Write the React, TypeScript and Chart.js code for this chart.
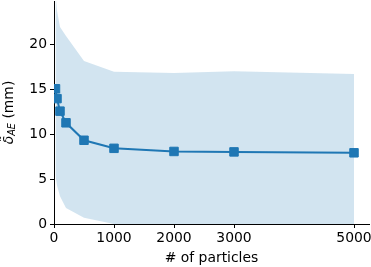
import React, { useEffect, useRef } from "react";
import { Chart, registerables } from "chart.js";

Chart.register(...registerables);

const particles = [25, 50, 100, 200, 500, 1000, 2000, 3000, 5000];
const meanDelta = [15.1, 14.0, 12.6, 11.3, 9.35, 8.45, 8.1, 8.05, 7.95];
const upperBand = [25.8, 23.8, 22.0, 21.0, 18.2, 17.0, 16.85, 17.05, 16.75];
const lowerBand = [5.4, 4.3, 3.1, 1.8, 0.7, 0.0, -0.3, -0.4, -0.5];
const xTicks = [0, 1000, 2000, 3000, 5000];
const yTicks = [0, 5, 10, 15, 20];

const FONT = "DejaVu Sans";
const FS = 13.9;
const BLUE = "#1f77b4";

const yTitlePlugin = {
  id: "yTitle",
  afterDraw(chart: any) {
    const ctx = chart.ctx;
    const area = chart.chartArea;
    const cy = (area.top + area.bottom) / 2;
    const cx = 9;
    ctx.save();
    ctx.translate(cx, cy);
    ctx.rotate(-Math.PI / 2);
    ctx.fillStyle = "#000";
    ctx.textBaseline = "middle";
    ctx.textAlign = "left";
    const p1 = "δ̃";
    const p2 = "AE";
    const p3 = " (mm)";
    const f1i = `italic ${FS}px "${FONT}"`;
    const f1 = `${FS}px "${FONT}"`;
    const f2 = `italic ${FS * 0.7}px "${FONT}"`;
    ctx.font = f1i;
    const w1 = ctx.measureText(p1).width;
    ctx.font = f1;
    const w3 = ctx.measureText(p3).width;
    ctx.font = f2;
    const w2 = ctx.measureText(p2).width;
    let x = -(w1 + w2 + w3) / 2;
    ctx.font = f1i;
    ctx.fillText(p1, x, 0);
    x += w1;
    ctx.font = f2;
    ctx.fillText(p2, x, 3);
    x += w2;
    ctx.font = f1;
    ctx.fillText(p3, x, 0);
    ctx.restore();
  },
};

export default function App() {
  const ref = useRef<HTMLCanvasElement | null>(null);
  useEffect(() => {
    document.body.style.margin = "0";
    const canvas = ref.current;
    if (!canvas) return;
    const pts = (ys: number[]) => particles.map((x, i) => ({ x, y: ys[i] }));
    const tickFont = { family: FONT, size: FS };
    const chart = new Chart(canvas, {
      type: "line",
      data: {
        datasets: [
          {
            label: "mean",
            data: pts(meanDelta),
            borderColor: BLUE,
            backgroundColor: BLUE,
            borderWidth: 2,
            pointStyle: "rect",
            pointRadius: 6,
            pointBorderWidth: 1,
            pointBorderColor: BLUE,
            pointBackgroundColor: BLUE,
            fill: false,
            order: 0,
          },
          {
            label: "upper",
            data: pts(upperBand),
            borderWidth: 0,
            borderColor: "rgba(0,0,0,0)",
            pointRadius: 0,
            backgroundColor: "rgba(31,119,180,0.2)",
            fill: "+1",
            order: 1,
          },
          {
            label: "lower",
            data: pts(lowerBand),
            borderWidth: 0,
            borderColor: "rgba(0,0,0,0)",
            pointRadius: 0,
            fill: false,
            order: 2,
          },
        ],
      },
      options: {
        responsive: false,
        animation: false,
        events: [],
        layout: { autoPadding: false, padding: { top: 1, right: 2, left: 0, bottom: 0 } },
        plugins: { legend: { display: false }, tooltip: { enabled: false } },
        scales: {
          x: {
            type: "linear",
            min: 0,
            max: 5250,
            afterBuildTicks: (s: any) => {
              s.ticks = xTicks.map((v) => ({ value: v }));
            },
            afterFit: (s: any) => {
              s.height = 43;
              s.paddingLeft = 0;
              s.paddingRight = 0;
            },
            grid: {
              drawOnChartArea: false,
              drawTicks: true,
              tickLength: 4,
              color: "#000",
            },
            border: { display: true, color: "#000", width: 1 },
            ticks: {
              color: "#000",
              font: tickFont,
              padding: 2,
              maxRotation: 0,
              autoSkip: false,
              callback: (v: any) => String(v),
            },
            title: {
              display: true,
              text: "# of particles",
              color: "#000",
              font: tickFont,
              padding: { top: 0, bottom: 0 },
            },
          },
          y: {
            type: "linear",
            min: 0,
            max: 24.9,
            afterBuildTicks: (s: any) => {
              s.ticks = yTicks.map((v) => ({ value: v }));
            },
            afterFit: (s: any) => {
              s.width = 54;
              s.paddingTop = 0;
              s.paddingBottom = 0;
            },
            grid: {
              drawOnChartArea: false,
              drawTicks: true,
              tickLength: 4,
              color: "#000",
            },
            border: { display: true, color: "#000", width: 1 },
            ticks: { color: "#000", font: tickFont, padding: 3, callback: (v: any) => String(v) },
          },
        },
      },
      plugins: [yTitlePlugin],
    } as any);
    return () => chart.destroy();
  }, []);
  return <canvas ref={ref} width={371} height={267} style={{ display: "block" }} />;
}
